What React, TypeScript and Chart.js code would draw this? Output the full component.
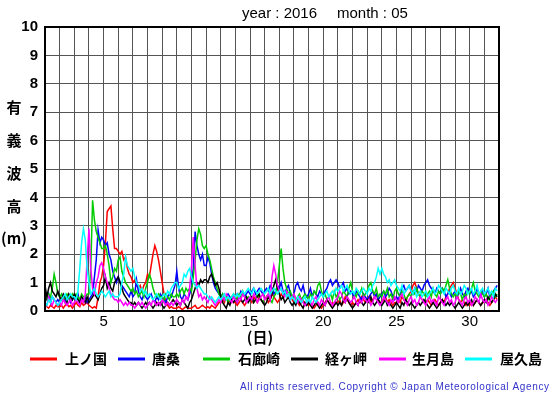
import React, { useEffect, useRef } from 'react';
import { Chart, registerables } from 'chart.js';

Chart.register(...registerables);

// ---------- text ----------
const TITLE_YEAR = 'year : 2016';
const TITLE_MONTH = 'month : 05';
const Y_LABEL = ['有', '義', '波', '高', '(m)'];
const X_LABEL = '(日)';
const COPYRIGHT = 'All rights reserved. Copyright \u00A9 Japan Meteorological Agency';
const STATIONS = ['上ノ国', '唐桑', '石廊崎', '経ヶ岬', '生月島', '屋久島'];
const COLORS = ['#ff0000', '#0000ff', '#00cc00', '#000000', '#ff00ff', '#00ffff'];
const X_TICK_LABELS = [5, 10, 15, 20, 25, 30];

// ---------- axes ----------
const X_MIN = 1;
const X_MAX = 32;
const Y_MIN = 0;
const Y_MAX = 10;
const STEPS_PER_DAY = 8; // one value every 3 hours, starting at day 1 00:00

// ---------- data (significant wave height, m) ----------
const kaminokuni = [
  0.2,0.15,0.1,0.2,0.15,0.1,0.2,0.15,
  0.15,0.2,0.1,0.2,0.25,0.15,0.2,0.1,
  0.2,0.3,0.2,0.15,0.3,0.2,0.25,0.3,
  0.2,0.15,0.1,0.15,0.1,0.5,1.0,1.2,
  1.6,2.4,3.5,3.6,3.7,2.9,2.2,2.2,
  2.1,2.0,2.1,1.8,1.9,1.5,1.3,1.2,
  1.0,1.1,0.9,0.8,0.9,0.7,0.9,1.0,
  1.3,1.2,1.6,2.0,2.3,2.1,1.8,1.4,
  1.0,0.6,0.3,0.2,0.1,0.15,0.1,0.1,
  0.1,0.15,0.1,0.05,0.1,0.15,0.1,0.1,
  0.1,0.15,0.2,0.1,0.1,0.15,0.2,0.15,
  0.1,0.15,0.1,0.2,0.15,0.1,0.2,0.3,
  0.3,0.4,0.3,0.5,0.4,0.3,0.4,0.3,
  0.3,0.2,0.3,0.4,0.3,0.2,0.3,0.4,
  0.4,0.3,0.5,0.4,0.3,0.5,0.4,0.3,
  0.4,0.5,0.3,0.4,0.6,0.5,0.4,0.3,
  0.4,0.6,0.5,0.7,0.6,0.5,0.6,0.4,
  0.3,0.4,0.3,0.2,0.3,0.4,0.2,0.3,
  0.2,0.3,0.2,0.1,0.2,0.3,0.2,0.1,
  0.2,0.3,0.4,0.3,0.2,0.3,0.2,0.3,
  0.3,0.4,0.2,0.3,0.5,0.4,0.3,0.2,
  0.3,0.2,0.3,0.4,0.3,0.5,0.4,0.3,
  0.4,0.5,0.3,0.4,0.5,0.6,0.4,0.3,
  0.3,0.4,0.5,0.3,0.4,0.3,0.2,0.3,
  0.3,0.4,0.3,0.5,0.4,0.3,0.5,0.6,
  0.7,0.9,1.0,0.8,0.6,0.5,0.4,0.3,
  0.3,0.4,0.3,0.2,0.3,0.4,0.3,0.2,
  0.3,0.4,0.3,0.5,0.6,0.8,0.9,1.0,
  0.8,0.6,0.4,0.3,0.4,0.3,0.2,0.3,
  0.2,0.3,0.2,0.3,0.4,0.3,0.2,0.3,
  0.3,0.4,0.3,0.2,0.3,0.4,0.5,0.4,
];

const karakuwa = [
  0.5,0.4,0.6,0.3,0.5,0.4,0.3,0.4,
  0.3,0.4,0.5,0.3,0.4,0.5,0.3,0.4,
  0.5,0.4,0.6,0.3,0.5,0.4,0.5,0.3,
  0.4,0.5,0.6,1.2,1.8,2.85,2.4,2.6,
  2.5,2.3,2.4,2.0,1.8,1.4,1.2,1.0,
  1.2,1.0,0.9,0.8,0.7,0.6,0.5,0.7,
  0.5,0.6,1.1,0.7,0.5,0.4,0.6,0.5,
  0.4,0.5,0.6,0.4,0.3,0.5,0.4,0.6,
  0.5,0.4,0.3,0.5,0.6,0.5,0.7,0.9,
  1.4,0.8,0.5,0.4,0.6,0.5,0.4,0.6,
  0.8,1.5,2.8,2.3,2.0,1.8,2.0,1.6,
  1.6,1.9,1.7,1.3,1.0,0.8,0.7,0.6,
  0.5,0.6,0.4,0.5,0.6,0.5,0.4,0.5,
  0.5,0.6,0.5,0.7,0.6,0.5,0.6,0.7,
  0.6,0.7,0.8,0.6,0.7,0.8,0.7,0.6,
  0.7,0.8,0.7,0.9,0.8,0.6,0.7,0.9,
  0.8,1.0,0.7,0.6,0.8,0.9,0.6,0.5,
  0.6,0.9,1.0,0.8,0.7,0.9,0.6,0.5,
  0.6,0.8,0.5,0.7,0.6,0.5,0.7,0.6,
  0.5,0.7,0.8,1.0,1.1,0.9,1.0,1.1,
  1.0,0.8,0.9,1.0,0.7,0.8,0.6,0.7,
  0.6,0.5,0.7,0.6,0.5,0.4,0.6,0.5,
  0.4,0.5,0.6,0.7,0.5,0.6,0.4,0.5,
  0.6,0.7,0.5,0.6,0.8,0.7,0.5,0.4,
  0.5,0.4,0.6,0.8,0.9,0.7,0.8,0.9,
  0.7,0.6,0.8,0.7,0.9,0.8,0.7,0.9,
  1.0,1.1,0.9,0.8,0.7,0.6,0.8,0.7,
  0.6,0.8,0.7,0.5,0.6,0.7,0.5,0.6,
  0.7,0.5,0.6,0.8,0.6,0.5,0.7,0.8,
  0.6,0.7,0.5,0.6,0.8,0.6,0.5,0.7,
  0.5,0.6,0.8,0.5,0.6,0.7,0.8,0.9,
];

const irozaki = [
  0.5,0.4,0.6,0.5,0.8,1.3,1.0,0.6,
  0.5,0.6,0.4,0.5,0.6,0.5,0.4,0.6,
  0.5,0.6,0.5,0.4,0.6,0.5,0.5,0.6,
  0.6,1.5,3.9,3.2,2.8,2.6,2.4,2.2,
  2.2,2.3,2.0,1.6,1.0,1.2,1.5,1.4,
  1.8,1.9,1.4,1.2,1.0,0.9,0.8,0.7,
  0.8,0.6,0.7,0.5,0.6,0.7,0.5,0.8,
  1.0,1.3,1.1,0.8,0.6,0.5,0.6,0.5,
  0.5,0.4,0.6,0.5,0.4,0.6,0.5,0.5,
  0.6,0.5,0.7,0.8,0.6,0.8,0.7,0.8,
  0.7,1.2,1.8,2.5,2.9,2.7,2.3,2.2,
  2.3,2.0,1.8,1.5,1.2,1.0,0.8,0.6,
  0.5,0.6,0.4,0.5,0.3,0.4,0.5,0.6,
  0.5,0.4,0.6,0.5,0.7,0.5,0.4,0.5,
  0.4,0.5,0.3,0.4,0.6,0.5,0.4,0.3,
  0.4,0.5,0.6,0.4,0.3,0.5,0.6,1.0,
  1.6,2.2,1.5,1.0,0.8,0.6,0.7,0.5,
  0.6,0.4,0.5,0.6,0.4,0.5,0.6,0.5,
  0.4,0.6,0.5,0.7,0.6,0.9,1.0,0.7,
  0.5,0.6,0.4,0.5,0.6,0.4,0.7,0.5,
  0.6,0.4,0.5,0.7,0.6,0.5,0.8,1.0,
  0.7,0.6,0.5,0.7,0.6,0.8,0.5,0.6,
  0.7,0.9,1.0,0.7,0.6,0.8,0.5,0.6,
  0.5,0.7,0.6,0.8,0.5,0.6,0.4,0.7,
  0.8,0.6,0.5,0.7,0.6,0.4,0.5,0.6,
  0.5,0.7,0.6,0.8,0.6,0.5,0.7,0.6,
  0.5,0.6,0.7,0.5,0.8,0.6,0.5,0.7,
  0.6,0.8,0.7,0.9,1.1,0.8,0.6,0.5,
  0.6,0.5,0.7,0.6,0.4,0.6,0.5,0.7,
  0.6,0.8,1.0,0.7,0.6,0.5,0.7,0.6,
  0.5,0.6,0.4,0.5,0.6,0.7,0.5,0.6,
];

const kyogamisaki = [
  0.9,0.5,0.8,1.0,0.7,0.6,0.5,0.7,
  0.5,0.4,0.6,0.5,0.3,0.6,0.5,0.4,
  0.6,0.5,0.4,0.3,0.5,0.4,0.3,0.5,
  0.3,0.4,0.5,0.6,0.5,0.4,0.6,0.8,
  0.9,1.2,0.8,1.0,0.8,0.7,1.0,1.1,
  1.2,1.0,0.8,0.6,0.5,0.4,0.3,0.3,
  0.2,0.3,0.2,0.3,0.2,0.1,0.2,0.3,
  0.2,0.3,0.2,0.1,0.2,0.3,0.2,0.3,
  0.2,0.1,0.2,0.3,0.2,0.3,0.4,0.3,
  0.2,0.3,0.2,0.4,0.3,0.2,0.1,0.3,
  0.4,0.6,0.8,1.0,0.9,1.1,1.0,1.1,
  1.1,1.0,1.2,1.3,1.1,0.9,1.0,0.8,
  0.5,0.3,0.2,0.1,0.3,0.2,0.4,0.3,
  0.4,0.3,0.5,0.4,0.3,0.4,0.5,0.3,
  0.4,0.5,0.3,0.4,0.5,0.6,0.4,0.3,
  0.2,0.3,0.5,0.4,0.6,0.9,1.1,0.8,
  0.6,0.4,0.5,0.3,0.4,0.5,0.3,0.2,
  0.3,0.2,0.4,0.3,0.2,0.1,0.3,0.2,
  0.3,0.2,0.1,0.2,0.3,0.2,0.1,0.2,
  0.3,0.2,0.4,0.3,0.2,0.1,0.2,0.3,
  0.2,0.3,0.2,0.4,0.3,0.5,0.3,0.2,
  0.1,0.2,0.3,0.2,0.4,0.3,0.2,0.3,
  0.4,0.3,0.5,0.3,0.2,0.3,0.4,0.3,
  0.2,0.3,0.4,0.2,0.3,0.2,0.1,0.2,
  0.3,0.2,0.1,0.3,0.2,0.4,0.3,0.2,
  0.3,0.2,0.1,0.2,0.3,0.2,0.3,0.4,
  0.3,0.2,0.1,0.2,0.3,0.2,0.1,0.2,
  0.3,0.4,0.3,0.2,0.3,0.2,0.3,0.2,
  0.1,0.2,0.3,0.2,0.1,0.2,0.3,0.2,
  0.3,0.4,0.2,0.3,0.4,0.3,0.2,0.3,
  0.4,0.3,0.5,0.4,0.3,0.4,0.6,0.5,
];

const ikitsukijima = [
  0.3,0.2,0.5,0.3,0.2,0.4,0.3,0.2,
  0.3,0.2,0.4,0.3,0.2,0.3,0.4,0.2,
  0.3,0.4,0.3,0.2,0.4,0.3,0.6,1.8,
  2.9,1.5,0.8,0.6,1.0,1.2,1.6,1.7,
  1.5,1.2,1.0,0.8,0.6,0.5,0.4,0.4,
  0.3,0.4,0.3,0.2,0.3,0.2,0.3,0.2,
  0.2,0.1,0.2,0.3,0.2,0.3,0.2,0.1,
  0.2,0.3,0.2,0.4,0.3,0.2,0.3,0.2,
  0.4,0.3,0.2,0.3,0.2,0.3,0.2,0.3,
  0.4,0.3,0.2,0.4,0.3,0.5,0.4,0.8,
  1.5,2.6,1.6,0.8,0.5,0.6,0.4,0.5,
  0.4,0.3,0.5,0.4,0.3,0.2,0.3,0.4,
  0.3,0.5,0.4,0.6,0.5,0.4,0.3,0.5,
  0.4,0.3,0.5,0.4,0.6,0.5,0.3,0.4,
  0.5,0.4,0.6,0.5,0.3,0.4,0.5,0.6,
  0.4,0.5,0.6,0.4,1.2,1.6,1.3,0.9,
  0.7,0.8,0.6,0.5,0.7,0.6,0.4,0.5,
  0.6,0.4,0.3,0.5,0.4,0.3,0.2,0.3,
  0.4,0.3,0.2,0.4,0.5,0.3,0.2,0.4,
  0.3,0.2,0.4,0.5,0.3,0.2,0.3,0.4,
  0.5,0.7,0.6,0.4,0.3,0.5,0.4,0.3,
  0.4,0.5,0.3,0.2,0.4,0.3,0.5,0.4,
  0.3,0.4,0.2,0.3,0.5,0.4,0.3,0.2,
  0.3,0.5,0.4,0.3,0.2,0.4,0.3,0.5,
  0.4,0.3,0.5,0.6,0.4,0.3,0.2,0.4,
  0.5,0.3,0.4,0.2,0.3,0.5,0.4,0.3,
  0.2,0.4,0.5,0.3,0.4,0.3,0.2,0.5,
  0.4,0.3,0.2,0.4,0.5,0.3,0.4,0.2,
  0.3,0.5,0.4,0.3,0.2,0.4,0.5,0.3,
  0.4,0.2,0.3,0.5,0.4,0.3,0.6,0.4,
  0.3,0.4,0.2,0.3,0.5,0.4,0.3,0.4,
];

const yakushima = [
  0.3,0.2,0.4,0.3,0.5,0.4,0.3,0.2,
  0.3,0.4,0.5,0.6,0.4,0.5,0.6,0.5,
  0.5,0.4,0.7,1.5,2.4,2.9,2.5,1.5,
  1.0,0.6,0.7,0.8,0.6,0.5,0.6,0.7,
  0.6,0.5,0.6,0.7,0.5,0.6,0.5,0.5,
  0.5,0.6,1.0,1.3,1.9,1.6,1.5,1.4,
  1.5,1.2,1.0,0.9,0.7,0.8,0.6,0.7,
  0.5,0.6,0.5,0.4,0.5,0.6,0.5,0.4,
  0.5,0.6,0.5,0.7,0.6,0.8,0.9,1.0,
  1.0,0.8,0.9,1.0,1.3,1.2,1.4,1.5,
  1.2,1.0,0.9,0.8,0.9,0.8,0.7,0.6,
  0.6,0.5,0.4,0.5,0.4,0.3,0.4,0.5,
  0.4,0.5,0.6,0.4,0.5,0.4,0.5,0.6,
  0.5,0.6,0.5,0.6,0.7,0.6,0.7,0.8,
  0.7,0.6,0.8,0.7,0.6,0.7,0.8,0.7,
  0.6,0.7,0.8,0.6,0.7,0.8,0.7,0.6,
  0.7,0.8,0.6,0.7,0.5,0.6,0.4,0.5,
  0.4,0.3,0.5,0.4,0.3,0.4,0.5,0.3,
  0.4,0.3,0.5,0.4,0.3,0.4,0.5,0.6,
  0.5,0.6,0.7,0.5,0.6,0.7,0.6,0.8,
  0.7,0.8,0.9,0.7,0.8,0.9,0.7,0.6,
  0.7,0.6,0.8,0.7,0.6,0.7,0.8,0.7,
  0.6,0.8,0.7,0.9,1.0,1.2,1.5,1.3,
  1.5,1.3,1.2,1.0,1.1,0.9,1.0,1.1,
  0.9,0.8,0.7,0.9,0.6,0.7,0.8,0.9,
  0.7,0.6,0.8,0.5,0.6,0.7,0.5,0.6,
  0.7,0.5,0.6,0.7,0.8,0.6,0.7,0.9,
  0.8,0.7,0.6,0.8,0.7,0.6,0.8,0.9,
  0.7,0.6,0.8,0.6,0.7,0.9,0.8,0.6,
  0.7,0.8,0.6,0.7,0.9,0.6,0.7,0.8,
  0.6,0.7,0.8,0.6,0.7,0.5,0.8,0.7,
];

const SERIES = [kaminokuni, karakuwa, irozaki, kyogamisaki, ikitsukijima, yakushima];

const toPoints = (arr: number[]) =>
  arr.map((v, i) => ({ x: X_MIN + i / STEPS_PER_DAY, y: v }));

const LATIN = '"Liberation Sans", Arial, Helvetica, sans-serif';
const CJK = '"Noto Sans CJK JP", "Noto Sans", sans-serif';

const decorPlugin = {
  id: 'decor',
  afterDraw(chart: any) {
    const ctx: CanvasRenderingContext2D = chart.ctx;
    const a = chart.chartArea;
    ctx.save();
    // frame
    ctx.strokeStyle = '#000';
    ctx.lineWidth = 2;
    ctx.strokeRect(a.left, a.top, a.right - a.left, a.bottom - a.top);

    ctx.fillStyle = '#000';
    ctx.textBaseline = 'middle';
    ctx.textAlign = 'left';
    // title
    ctx.font = `15px ${LATIN}`;
    ctx.fillText(TITLE_YEAR, 242, 14);
    ctx.fillText(TITLE_MONTH, 337, 14);

    // y label (vertical stack)
    ctx.textAlign = 'center';
    ctx.font = `bold 15px ${CJK}`;
    const yl = [107, 140, 173, 206, 238];
    Y_LABEL.forEach((t, i) => ctx.fillText(t, 14, yl[i]));

    // x label
    ctx.font = `bold 15px ${CJK}`;
    ctx.fillText(X_LABEL, 260, 337);

    // legend
    const lineX = [30, 118, 203, 291, 379, 465];
    const textX = [65, 152, 238, 325, 412, 500];
    const ly = 359;
    ctx.textAlign = 'left';
    ctx.font = `bold 14px ${CJK}`;
    STATIONS.forEach((s, i) => {
      ctx.strokeStyle = COLORS[i];
      ctx.lineWidth = 3;
      ctx.beginPath();
      ctx.moveTo(lineX[i], ly);
      ctx.lineTo(lineX[i] + 27, ly);
      ctx.stroke();
      ctx.fillStyle = '#000';
      ctx.fillText(s, textX[i], ly);
    });

    // copyright
    ctx.fillStyle = '#3333cc';
    ctx.font = `10px ${LATIN}`;
    const w = ctx.measureText(COPYRIGHT).width;
    const target = 309;
    const sp = (target - w) / (COPYRIGHT.length - 1);
    (ctx as any).letterSpacing = `${sp}px`;
    ctx.textAlign = 'left';
    ctx.fillText(COPYRIGHT, 240, 387);
    ctx.restore();
  },
};

export default function App() {
  const ref = useRef<HTMLCanvasElement | null>(null);
  useEffect(() => {
    if (!ref.current) return;
    const chart = new Chart(ref.current, {
      type: 'line',
      data: {
        datasets: SERIES.map((arr, i) => ({
          label: STATIONS[i],
          data: toPoints(arr),
          borderColor: COLORS[i],
          backgroundColor: COLORS[i],
          borderWidth: 1.5,
          pointRadius: 0,
          tension: 0,
          fill: false,
          order: SERIES.length - 1 - i,
        })),
      },
      options: {
        responsive: false,
        maintainAspectRatio: false,
        animation: false,
        events: [],
        layout: { padding: { left: 0, top: 27, right: 56, bottom: 0 } },
        plugins: { legend: { display: false }, title: { display: false }, tooltip: { enabled: false } },
        scales: {
          x: {
            type: 'linear',
            min: X_MIN,
            max: X_MAX,
            afterFit: (s: any) => { s.height = 84; },
            grid: { color: '#555', lineWidth: 1, drawTicks: false },
            border: { color: '#000', width: 2 },
            ticks: {
              stepSize: 1,
              autoSkip: false,
              maxTicksLimit: 100,
              maxRotation: 0,
              padding: 2,
              color: '#000',
              font: { family: LATIN, size: 15 },
              callback: (v: any) => (X_TICK_LABELS.includes(Number(v)) ? String(v) : ''),
            },
          },
          y: {
            type: 'linear',
            min: Y_MIN,
            max: Y_MAX,
            afterFit: (s: any) => { s.width = 45; },
            grid: { color: '#555', lineWidth: 1, drawTicks: false },
            border: { color: '#000', width: 2 },
            ticks: {
              stepSize: 1,
              padding: 7,
              color: '#000',
              font: { family: LATIN, size: 15, weight: 'bold' },
            },
          },
        },
      },
      plugins: [decorPlugin],
    });
    return () => chart.destroy();
  }, []);
  return (
    <div style={{ position: 'fixed', left: 0, top: 0, width: 555, height: 395, background: '#fff' }}>
      <canvas ref={ref} width={555} height={395} style={{ display: 'block' }} />
    </div>
  );
}
